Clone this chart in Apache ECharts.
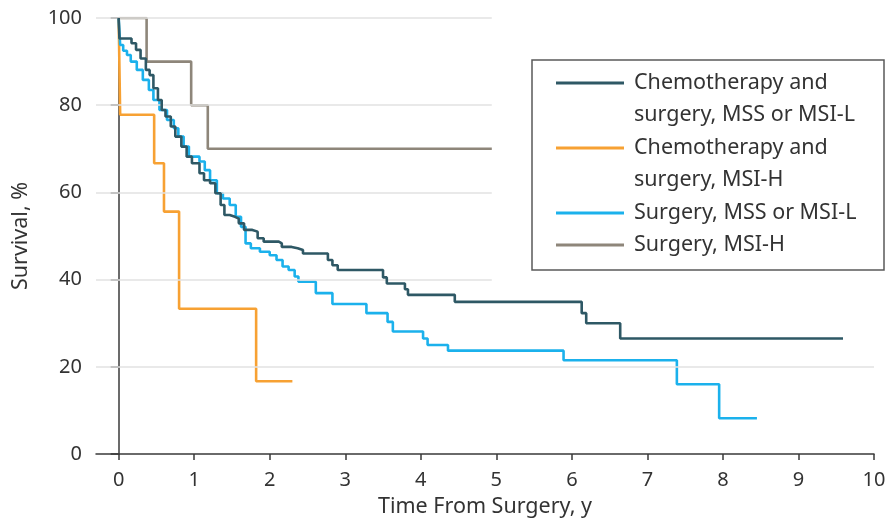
<!DOCTYPE html>
<html><head><meta charset="utf-8">
<script src="https://cdn.jsdelivr.net/npm/echarts@6/dist/echarts.min.js"></script>
<style>html,body{margin:0;padding:0;background:#fff}#c{width:886px;height:522px}</style>
</head><body><div id="c"></div>
<script>
const seriesNames = ['Chemotherapy and surgery, MSS or MSI-L', 'Chemotherapy and surgery, MSI-H', 'Surgery, MSS or MSI-L', 'Surgery, MSI-H'];
const xTickValues = [0, 1, 2, 3, 4, 5, 6, 7, 8, 9, 10];
const yTickValues = [0, 20, 40, 60, 80, 100];

const chemoMssTimes = [0, 0.01, 0.17, 0.23, 0.29, 0.36, 0.41, 0.46, 0.52, 0.57, 0.62, 0.69, 0.75, 0.83, 0.90, 0.97, 1.07, 1.13, 1.21, 1.28, 1.35, 1.40, 1.47, 1.54, 1.59, 1.66, 1.77, 1.84, 1.92, 2.12, 2.16, 2.29, 2.37, 2.44, 2.77, 2.83, 2.90, 3.50, 3.55, 3.79, 3.83, 4.45, 6.13, 6.19, 6.64, 9.59];
const chemoMssSurv  = [100, 95.3, 94.2, 92.7, 90.7, 88.1, 86.9, 83.9, 81.2, 78.9, 77.4, 75.1, 72.8, 70.5, 68.2, 66.7, 64.4, 62.8, 62.1, 59.8, 57.1, 54.8, 54.4, 54.0, 52.9, 51.4, 51.0, 49.5, 48.7, 48.3, 47.5, 47.2, 46.8, 46.0, 44.5, 43.3, 42.2, 40.5, 39.1, 37.8, 36.5, 34.9, 32.3, 30.0, 26.5, 26.5];

const chemoMsiHTimes = [0, 0.01, 0.02, 0.47, 0.60, 0.80, 1.82, 2.30];
const chemoMsiHSurv  = [100, 88.9, 77.8, 66.7, 55.6, 33.3, 16.7, 16.7];

const surgMssTimes = [0, 0.02, 0.06, 0.11, 0.16, 0.24, 0.32, 0.40, 0.46, 0.54, 0.64, 0.73, 0.79, 0.86, 0.93, 1.07, 1.14, 1.21, 1.30, 1.38, 1.47, 1.55, 1.62, 1.68, 1.75, 1.87, 2.00, 2.09, 2.17, 2.25, 2.33, 2.38, 2.61, 2.83, 3.28, 3.56, 3.63, 4.03, 4.09, 4.36, 5.89, 7.39, 7.95, 8.45];
const surgMssSurv  = [100, 93.8, 92.5, 91.5, 90.0, 88.1, 85.8, 83.5, 81.2, 78.9, 76.6, 74.7, 72.8, 70.5, 68.2, 67.1, 65.1, 62.8, 59.8, 58.6, 57.1, 54.4, 52.1, 48.3, 47.2, 46.4, 45.6, 44.5, 43.0, 42.2, 40.7, 39.5, 36.9, 34.4, 32.3, 30.3, 28.1, 26.5, 25.0, 23.7, 21.5, 16.0, 8.2, 8.2];

const surgMsiHTimes = [0, 0.37, 0.96, 1.18, 4.94];
const surgMsiHSurv  = [100, 90, 80, 70, 70];

const gridShortLevels = [40, 60, 80, 100];
const gridLongLevels = [20];

const colors = ['#2e5865', '#f7a133', '#1bb1ec', '#8e867a'];
const FONT = 'Noto Sans';
const TXT = '#333';
const X_MIN = -0.3, X_MAX = 10, GRID_SHORT_END = 4.94;

function zip(t, s) { return t.map((v, i) => [v, s[i]]); }

const chart = echarts.init(document.getElementById('c'), null, {renderer: 'canvas'});

function lineSeries(idx, t, s, z) {
  return {
    name: seriesNames[idx], type: 'line', step: 'end', data: zip(t, s),
    symbol: 'none', showSymbol: false, z: z,
    lineStyle: {color: colors[idx], width: 2.6},
    itemStyle: {color: colors[idx]},
    emphasis: {disabled: true}, animation: false
  };
}

const gridLines = [];
gridShortLevels.forEach(v => gridLines.push([{coord: [X_MIN, v]}, {coord: [GRID_SHORT_END, v]}]));
gridLongLevels.forEach(v => gridLines.push([{coord: [X_MIN, v]}, {coord: [X_MAX, v]}]));

const legendText = {fontFamily: FONT, fontSize: 21.5, color: TXT, lineHeight: 32, padding: [0, 0, 0, 5]};

const option = {
  animation: false,
  grid: {left: 96, right: 12, top: 18, bottom: 68, containLabel: false, outerBoundsMode: 'none'},
  graphic: [{
    type: 'rect', z: 0, silent: true,
    shape: {x: 532, y: 60, width: 352, height: 210},
    style: {fill: '#fff', stroke: '#595959', lineWidth: 1.5}
  }],
  legend: [{
    data: [seriesNames[0], seriesNames[1]], orient: 'vertical', left: 556, top: 35, padding: 0,
    itemWidth: 68, itemHeight: 3, itemGap: -31, selectedMode: false, z: 10,
    icon: 'rect',
    formatter: n => ' \n' + n.replace('and ', 'and\n'),
    textStyle: legendText
  }, {
    data: [seriesNames[2], seriesNames[3]], orient: 'vertical', left: 556, top: 197, padding: 0,
    itemWidth: 68, itemHeight: 3, itemGap: 0, selectedMode: false, z: 10,
    icon: 'rect',
    textStyle: legendText
  }],
  xAxis: {
    type: 'value', min: X_MIN, max: X_MAX,
    name: 'Time From Surgery, y', nameLocation: 'middle', nameGap: 42,
    nameTextStyle: {fontFamily: FONT, fontSize: 21.5, color: TXT},
    axisLine: {lineStyle: {color: '#3a3a3a', width: 1.5}},
    axisTick: {show: true, length: 6, customValues: xTickValues, lineStyle: {color: '#3a3a3a', width: 1.5}},
    axisLabel: {customValues: xTickValues, margin: 16, fontFamily: FONT, fontSize: 20, color: TXT},
    splitLine: {show: false}
  },
  yAxis: {
    type: 'value', min: 0, max: 100, interval: 20,
    name: 'Survival, %', nameLocation: 'middle', nameGap: 64,
    nameTextStyle: {fontFamily: FONT, fontSize: 21.5, color: TXT},
    axisLine: {show: true, lineStyle: {color: '#3a3a3a', width: 1.5}},
    axisTick: {show: true, length: 8, customValues: yTickValues, lineStyle: {color: '#3a3a3a', width: 1.5}},
    axisLabel: {customValues: yTickValues, margin: 14, fontFamily: FONT, fontSize: 20, color: TXT},
    splitLine: {show: false}
  },
  series: [
    {
      name: 'gridlines', type: 'line', data: [], silent: true, z: 1,
      markLine: {silent: true, symbol: ['none', 'none'], label: {show: false},
        lineStyle: {color: '#e2e2e2', width: 1.5, type: 'solid'}, emphasis: {disabled: true},
        data: gridLines}
    },
    lineSeries(0, chemoMssTimes, chemoMssSurv, 5),
    lineSeries(1, chemoMsiHTimes, chemoMsiHSurv, 3),
    lineSeries(2, surgMssTimes, surgMssSurv, 4),
    lineSeries(3, surgMsiHTimes, surgMsiHSurv, 3)
  ]
};
chart.setOption(option);
</script></body></html>
